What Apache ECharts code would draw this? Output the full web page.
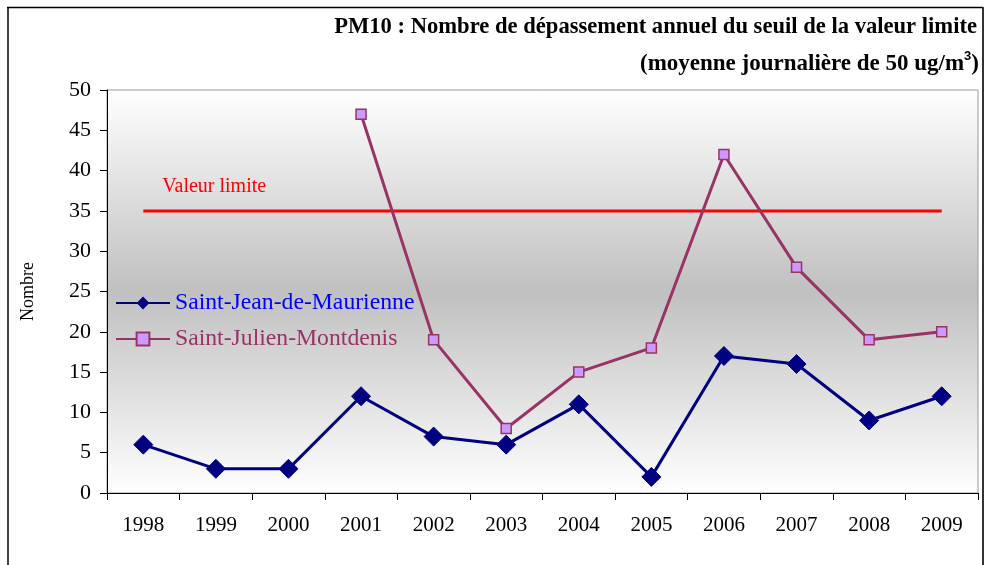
<!DOCTYPE html>
<html>
<head>
<meta charset="utf-8">
<script src="https://cdn.jsdelivr.net/npm/echarts@6/dist/echarts.min.js"></script>
<style>html,body{margin:0;padding:0;background:#fff}#c{width:986px;height:565px}</style>
</head>
<body>
<div id="c"></div>
<script>
const years = ['1998','1999','2000','2001','2002','2003','2004','2005','2006','2007','2008','2009'];
const saintJean = [6, 3, 3, 12, 7, 6, 11, 2, 17, 16, 9, 12];
const saintJulien = [null, null, null, 47, 19, 8, 15, 18, 42, 28, 19, 20];
const limitValue = [35, 35, 35, 35, 35, 35, 35, 35, 35, 35, 35, 35];
const yTicks = [0, 5, 10, 15, 20, 25, 30, 35, 40, 45, 50];

const font = '"Liberation Serif", "Times New Roman", serif';
const chart = echarts.init(document.getElementById('c'));
chart.setOption({
  animation: false,
  backgroundColor: '#ffffff',
  textStyle: { fontFamily: font },
  graphic: [
    { type: 'line', shape: { x1: 7, y1: 7.5, x2: 983, y2: 7.5 }, style: { stroke: '#000', lineWidth: 1.5 }, z: 0 },
    { type: 'line', shape: { x1: 8, y1: 7, x2: 8, y2: 565 }, style: { stroke: '#000', lineWidth: 1.5 }, z: 0 },
    { type: 'line', shape: { x1: 983, y1: 7, x2: 983, y2: 565 }, style: { stroke: '#333', lineWidth: 2 }, z: 0 },
    { type: 'text', right: 9, top: 16, style: { text: 'PM10 : Nombre de dépassement annuel du seuil de la valeur limite', font: 'bold 22.6px ' + font, fill: '#000' } },
    { type: 'text', right: 7, top: 50, style: { text: '(moyenne journalière de 50 ug/m{s|3})', rich: { s: { fontSize: 13, fontWeight: 'bold', verticalAlign: 'top', padding: [0, 0, 16, 0] } }, font: 'bold 23px ' + font, fill: '#000' } }
  ],
  grid: {
    left: 107, top: 90, right: 8, bottom: 72,
    show: true,
    borderColor: '#999',
    borderWidth: 1,
    backgroundColor: new echarts.graphic.LinearGradient(0, 0, 0, 1, [
      { offset: 0, color: '#ffffff' },
      { offset: 0.5, color: '#c0c0c0' },
      { offset: 1, color: '#ffffff' }
    ])
  },
  legend: {
    orient: 'vertical',
    left: 110, top: 286,
    itemWidth: 54, itemHeight: 16,
    itemGap: 12,
    data: [
      { name: 'Saint-Jean-de-Maurienne', textStyle: { color: '#0000ff' } },
      { name: 'Saint-Julien-Montdenis', textStyle: { color: '#993366' } }
    ],
    textStyle: { fontFamily: font, fontSize: 23.7 }
  },
  xAxis: {
    type: 'category',
    data: years,
    boundaryGap: true,
    axisLine: { lineStyle: { color: '#000', width: 1 } },
    axisTick: { show: true, alignWithLabel: false, length: 7, lineStyle: { color: '#000' } },
    axisLabel: { color: '#000', fontSize: 21, fontFamily: font, margin: 22 },
    splitLine: { show: false }
  },
  yAxis: {
    type: 'value',
    min: yTicks[0], max: yTicks[yTicks.length - 1], interval: 5,
    name: 'Nombre',
    nameLocation: 'middle',
    nameGap: 70,
    nameRotate: 90,
    nameTextStyle: { color: '#000', fontSize: 18, fontFamily: font },
    axisLine: { show: true, lineStyle: { color: '#000', width: 1 } },
    axisTick: { show: true, length: 7, lineStyle: { color: '#000' } },
    axisLabel: { color: '#000', fontSize: 22, fontFamily: font, margin: 16 },
    splitLine: { show: false }
  },
  series: [
    {
      name: 'Valeur limite',
      type: 'line',
      data: limitValue.map((v, i) => i === 0 ? { value: v, label: { show: true, formatter: 'Valeur limite', position: 'right', offset: [14, -24], color: '#ff0000', fontSize: 20, fontFamily: font } } : v),
      symbol: 'circle',
      symbolSize: 0,
      showSymbol: true,
      lineStyle: { color: '#ff0000', width: 3 },
      itemStyle: { color: '#ff0000' },
      z: 1
    },
    {
      name: 'Saint-Jean-de-Maurienne',
      type: 'line',
      data: saintJean,
      symbol: 'diamond',
      symbolSize: 19,
      lineStyle: { color: '#000080', width: 3 },
      itemStyle: { color: '#000080', borderColor: '#000080' },
      z: 3
    },
    {
      name: 'Saint-Julien-Montdenis',
      type: 'line',
      data: saintJulien,
      connectNulls: false,
      symbol: 'rect',
      symbolSize: 10,
      lineStyle: { color: '#993366', width: 3 },
      itemStyle: { color: '#cc99ff', borderColor: '#993366', borderWidth: 1.5 },
      z: 2
    }
  ]
});
</script>
</body>
</html>
